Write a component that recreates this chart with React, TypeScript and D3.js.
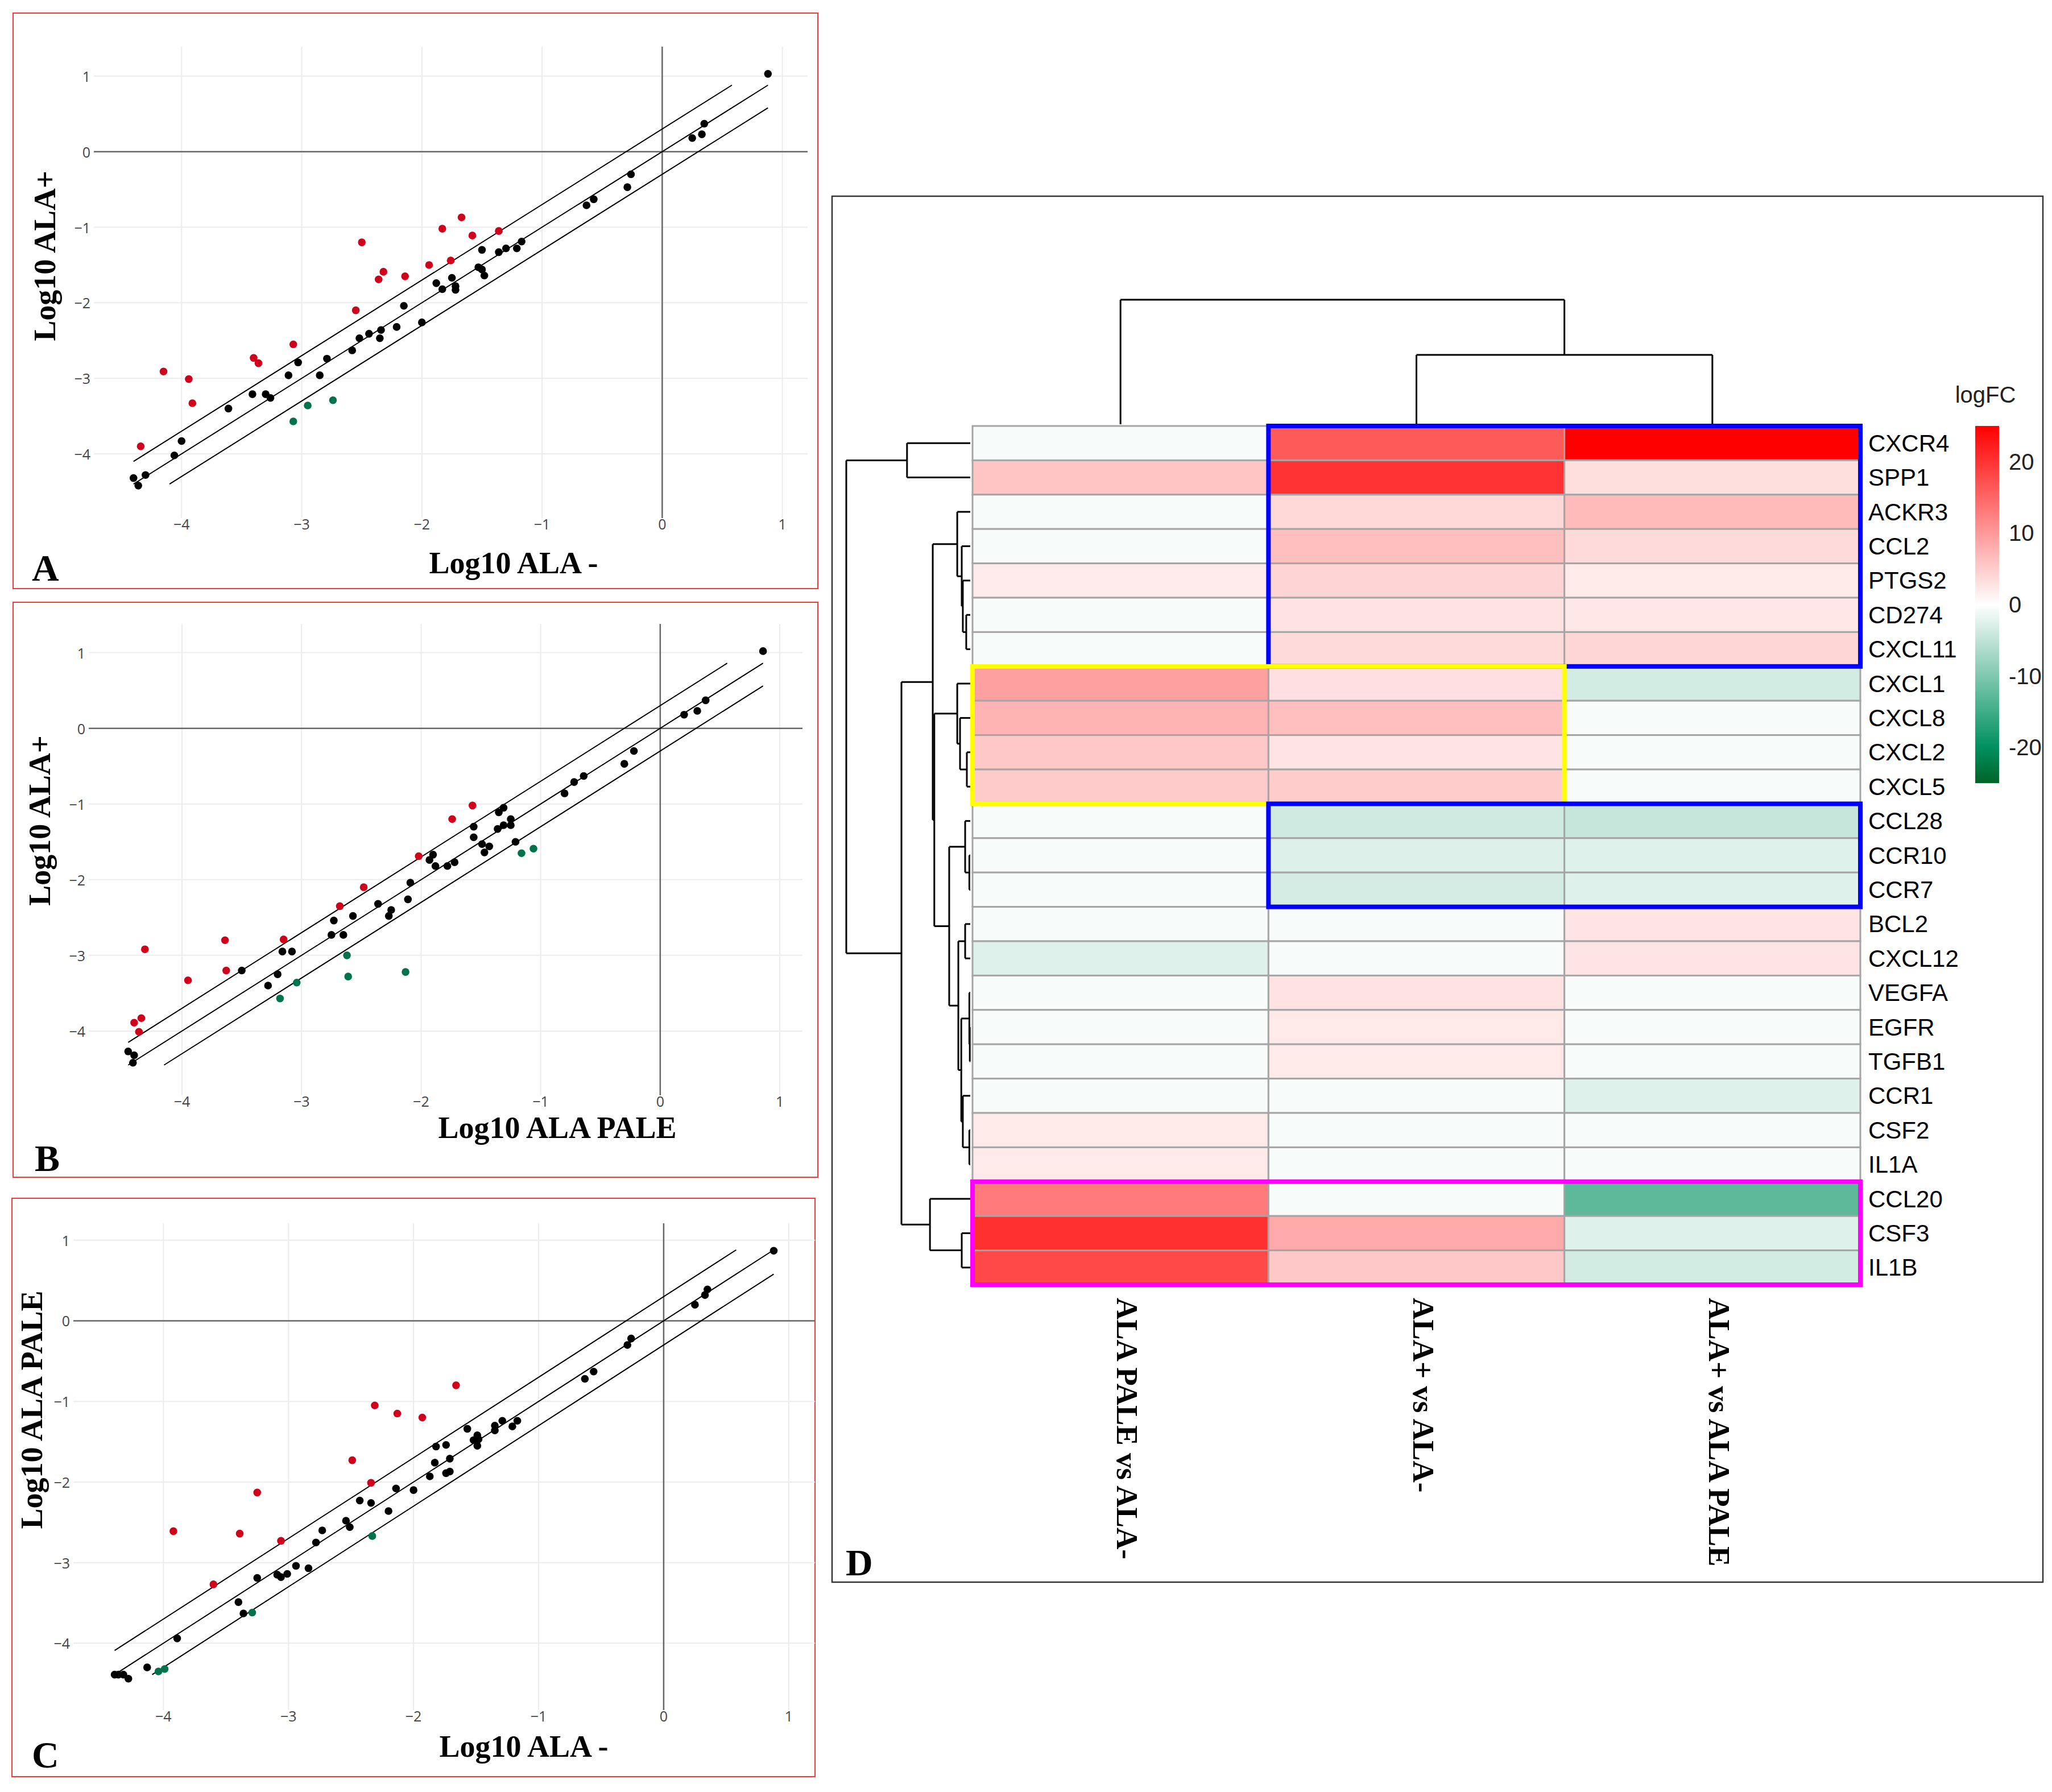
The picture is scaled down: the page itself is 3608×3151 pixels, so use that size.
import * as d3 from "d3"

type Pt = [number, number]

// ---- scatter panels: [log10 x, log10 y]
const aBlack: Pt[] = [
  [0.88, 1.03], [0.35, 0.37], [0.33, 0.23], [0.25, 0.18], [-0.26, -0.3], [-0.29, -0.47], [-0.57, -0.63],
  [-0.63, -0.71], [-1.17, -1.19], [-1.21, -1.28], [-1.3, -1.28], [-1.36, -1.33], [-1.5, -1.3], [-1.53, -1.53],
  [-1.5, -1.56], [-1.48, -1.64], [-1.75, -1.67], [-1.72, -1.78], [-1.72, -1.83], [-1.88, -1.74], [-1.83, -1.82],
  [-2.15, -2.04], [-2.0, -2.26], [-2.21, -2.32], [-2.34, -2.36], [-2.35, -2.47], [-2.44, -2.41], [-2.52, -2.47],
  [-2.58, -2.63], [-2.79, -2.74], [-2.85, -2.96], [-3.03, -2.79], [-3.11, -2.96], [-3.3, -3.21], [-3.26, -3.26],
  [-3.41, -3.21], [-3.61, -3.4], [-4.0, -3.83], [-4.06, -4.02], [-4.3, -4.28], [-4.4, -4.32], [-4.36, -4.42],
]
const aRed: Pt[] = [
  [-1.67, -0.87], [-1.83, -1.02], [-1.58, -1.11], [-1.36, -1.05], [-1.76, -1.44], [-1.94, -1.5], [-2.5, -1.2],
  [-2.32, -1.59], [-2.36, -1.69], [-2.14, -1.65], [-2.55, -2.1], [-3.07, -2.55], [-3.4, -2.73], [-3.36, -2.8],
  [-4.15, -2.91], [-3.94, -3.01], [-3.91, -3.33], [-4.34, -3.9],
]
const aGreen: Pt[] = [[-3.07, -3.57], [-2.95, -3.36], [-2.74, -3.29]]

const bBlack: Pt[] = [
  [0.86, 1.02], [0.38, 0.37], [0.31, 0.23], [0.2, 0.18], [-0.22, -0.3], [-0.3, -0.47], [-0.64, -0.63],
  [-0.72, -0.71], [-0.8, -0.86], [-1.31, -1.05], [-1.35, -1.11], [-1.25, -1.2], [-1.56, -1.3], [-1.31, -1.28],
  [-1.25, -1.28], [-1.36, -1.33], [-1.56, -1.44], [-1.21, -1.5], [-1.49, -1.53], [-1.43, -1.56], [-1.47, -1.64],
  [-1.9, -1.67], [-1.93, -1.74], [-1.72, -1.77], [-1.78, -1.82], [-1.88, -1.82], [-2.09, -2.04], [-2.11, -2.26],
  [-2.36, -2.32], [-2.25, -2.4], [-2.27, -2.48], [-2.57, -2.48], [-2.73, -2.54], [-2.75, -2.73], [-2.65, -2.73],
  [-3.16, -2.95], [-3.08, -2.95], [-3.2, -3.25], [-3.28, -3.4], [-3.5, -3.2], [-4.45, -4.27], [-4.4, -4.32],
  [-4.41, -4.42],
]
const bRed: Pt[] = [
  [-1.57, -1.02], [-1.74, -1.2], [-2.02, -1.69], [-2.48, -2.1], [-2.68, -2.35], [-3.15, -2.79], [-3.64, -2.8],
  [-3.63, -3.2], [-4.31, -2.92], [-3.95, -3.33], [-4.34, -3.83], [-4.4, -3.89], [-4.36, -4.01],
]
const bGreen: Pt[] = [
  [-1.16, -1.65], [-1.06, -1.59], [-2.13, -3.22], [-2.62, -3.0], [-2.61, -3.28], [-3.04, -3.36], [-3.18, -3.57],
]

const cBlack: Pt[] = [
  [0.88, 0.87], [0.35, 0.39], [0.33, 0.32], [0.25, 0.2], [-0.26, -0.22], [-0.29, -0.3], [-0.56, -0.63],
  [-0.63, -0.72], [-1.17, -1.24], [-1.29, -1.24], [-1.21, -1.31], [-1.35, -1.3], [-1.35, -1.36], [-1.57, -1.34],
  [-1.49, -1.42], [-1.48, -1.47], [-1.52, -1.48], [-1.49, -1.55], [-1.82, -1.56], [-1.74, -1.54], [-1.71, -1.71],
  [-1.83, -1.76], [-1.87, -1.93], [-1.74, -1.89], [-1.71, -1.87], [-2.14, -2.08], [-2.0, -2.1], [-2.43, -2.23],
  [-2.34, -2.26], [-2.2, -2.36], [-2.54, -2.48], [-2.51, -2.56], [-2.73, -2.6], [-2.78, -2.75], [-2.94, -3.04],
  [-2.84, -3.07], [-3.09, -3.15], [-3.06, -3.18], [-3.01, -3.14], [-3.25, -3.19], [-3.4, -3.49], [-3.36, -3.63],
  [-3.89, -3.94], [-4.13, -4.3], [-4.39, -4.39], [-4.36, -4.39], [-4.32, -4.39], [-4.28, -4.44],
]
const cRed: Pt[] = [
  [-1.66, -0.8], [-2.31, -1.05], [-2.13, -1.15], [-1.93, -1.2], [-2.49, -1.73], [-2.34, -2.01], [-3.25, -2.13],
  [-3.92, -2.61], [-3.39, -2.64], [-3.06, -2.73], [-3.6, -3.27],
]
const cGreen: Pt[] = [[-2.33, -2.67], [-3.29, -3.62], [-4.04, -4.35], [-3.99, -4.32]]

const axisTicks = [-4, -3, -2, -1, 0, 1]

// ---- heatmap
const genes = [
  "CXCR4", "SPP1", "ACKR3", "CCL2", "PTGS2", "CD274", "CXCL11", "CXCL1", "CXCL8", "CXCL2", "CXCL5", "CCL28",
  "CCR10", "CCR7", "BCL2", "CXCL12", "VEGFA", "EGFR", "TGFB1", "CCR1", "CSF2", "IL1A", "CCL20", "CSF3", "IL1B",
]
const contrasts = ["ALA PALE vs ALA-", "ALA+ vs ALA-", "ALA+ vs ALA PALE"]
const fcPaleVsNeg = [
  -0.6, 5.8, -0.6, -0.6, 2.0, -0.6, -0.6, 9.3, 7.4, 5.4, 5.2, -0.6, -0.6, -0.6, -0.6, -2.5, -0.6, -0.6, -0.6,
  -0.6, 2.1, 2.1, 13.0, 20.3, 17.9,
]
const fcPosVsNeg = [
  16.2, 20.0, 3.8, 6.3, 4.2, 2.8, 3.6, 3.1, 6.3, 2.6, 5.0, -3.8, -2.7, -3.4, -0.6, -0.6, 2.8, 2.2, 2.2, -0.6,
  -0.6, -0.6, -0.6, 8.3, 5.4,
]
const fcPosVsPale = [
  25.0, 3.2, 6.8, 3.6, 2.1, 2.4, 4.0, -3.5, -0.6, -0.6, -0.6, -4.5, -2.6, -2.5, 2.6, 2.6, -0.6, -0.6, -0.6,
  -2.5, -0.6, -0.6, -12.7, -2.5, -3.5,
]
const fcColumns = [fcPaleVsNeg, fcPosVsNeg, fcPosVsPale]
const legendTicks = [20, 10, 0, -10, -20]

type Tree = { h: number; kids: (Tree | string)[] }
const n = (h: number, a: Tree | string, b: Tree | string): Tree => ({ h, kids: [a, b] })

const rowTree = n(
  40,
  n(20.4, "CXCR4", "SPP1"),
  n(
    22.2,
    n(
      12.1,
      n(4.2, "ACKR3", n(2.75, "CCL2", n(2.4, "PTGS2", n(1.3, "CD274", "CXCL11")))),
      n(
        11.6,
        n(4.2, "CXCL1", n(3.3, "CXCL8", n(1.1, "CXCL2", "CXCL5"))),
        n(
          6.8,
          n(1.65, "CCL28", n(0.3, "CCR10", "CCR7")),
          n(
            3.85,
            n(1.65, "BCL2", "CXCL12"),
            n(2.9, n(0.3, "VEGFA", n(0.15, "EGFR", "TGFB1")), n(2.4, "CCR1", n(0.3, "CSF2", "IL1A")))
          )
        )
      )
    ),
    n(13, "CCL20", n(2.75, "CSF3", "IL1B"))
  )
)
const colTree = n(10, "ALA PALE vs ALA-", n(5.57, "ALA+ vs ALA-", "ALA+ vs ALA PALE"))

const boxes = [
  { cols: [1, 2], rows: ["CXCR4", "CXCL11"], color: "#0000ff" },
  { cols: [0, 1], rows: ["CXCL1", "CXCL5"], color: "#ffff00" },
  { cols: [1, 2], rows: ["CCL28", "CCR7"], color: "#0000ff" },
  { cols: [0, 2], rows: ["CCL20", "IL1B"], color: "#ff00ff" },
]

const serif = "'Liberation Serif', 'Times New Roman', serif"
const sans = "'Liberation Sans', Arial, sans-serif"

const fmt = (v: number) => (v < 0 ? "\u2212" + Math.abs(v) : String(v))

interface PanelSetup {
  letter: string
  frame: [number, number, number, number]
  plot: [number, number, number, number]
  xDom: [number, number]
  yDom: [number, number]
  xTitle: string
  yTitle: string
  xTitleAt: [number, number]
  yTitleAt: [number, number]
  letterAt: [number, number]
  black: Pt[]
  red: Pt[]
  green: Pt[]
}

const panels: PanelSetup[] = [
  {
    letter: "A", frame: [23, 23, 1438, 1035], plot: [165, 82, 1420, 911], xDom: [-4.73, 1.21], yDom: [-4.85, 1.39],
    xTitle: "Log10 ALA -", yTitle: "Log10 ALA+", xTitleAt: [903, 1008], yTitleAt: [97, 450], letterAt: [56, 1021],
    black: aBlack, red: aRed, green: aGreen,
  },
  {
    letter: "B", frame: [23, 1059, 1438, 2070], plot: [156, 1097, 1411, 1926], xDom: [-4.78, 1.19], yDom: [-4.85, 1.38],
    xTitle: "Log10 ALA PALE", yTitle: "Log10 ALA+", xTitleAt: [980, 2001], yTitleAt: [88, 1443], letterAt: [61, 2059],
    black: bBlack, red: bRed, green: bGreen,
  },
  {
    letter: "C", frame: [21, 2107, 1433, 3124], plot: [129, 2151, 1433, 3007], xDom: [-4.72, 1.21], yDom: [-4.83, 1.21],
    xTitle: "Log10 ALA -", yTitle: "Log10 ALA PALE", xTitleAt: [921, 3089], yTitleAt: [74, 2479], letterAt: [56, 3108],
    black: cBlack, red: cRed, green: cGreen,
  },
]

function Scatter({ p }: { p: PanelSetup }) {
  const x = d3.scaleLinear().domain(p.xDom).range([p.plot[0], p.plot[2]])
  const y = d3.scaleLinear().domain(p.yDom).range([p.plot[3], p.plot[1]])
  const all = [...p.black, ...p.red, ...p.green]
  const lo = d3.min(all, (d) => d[0]) ?? -4.4
  const hi = d3.max(all, (d) => d[0]) ?? 0.9
  // fold-change guide lines: y = x + off
  const guides = [
    { off: 0.3, a: lo, b: hi - 0.3 },
    { off: 0, a: lo, b: hi },
    { off: -0.3, a: lo + 0.3, b: hi },
  ]
  const groups = [
    { pts: p.black, fill: "#000000" },
    { pts: p.red, fill: "#d0021b" },
    { pts: p.green, fill: "#00734d" },
  ]
  return (
    <g>
      <rect
        x={p.frame[0]}
        y={p.frame[1]}
        width={p.frame[2] - p.frame[0]}
        height={p.frame[3] - p.frame[1]}
        fill="white"
        stroke="#f03a3a"
        strokeWidth={2}
      />
      {axisTicks
        .filter((t) => t !== 0)
        .map((t) => (
          <g key={"g" + t}>
            <line x1={x(t)} x2={x(t)} y1={p.plot[1]} y2={p.plot[3]} stroke="#ececec" strokeWidth={2} />
            <line x1={p.plot[0]} x2={p.plot[2]} y1={y(t)} y2={y(t)} stroke="#ececec" strokeWidth={2} />
          </g>
        ))}
      <line x1={x(0)} x2={x(0)} y1={p.plot[1]} y2={p.plot[3]} stroke="#666" strokeWidth={2.5} />
      <line x1={p.plot[0]} x2={p.plot[2]} y1={y(0)} y2={y(0)} stroke="#666" strokeWidth={2.5} />
      {axisTicks.map((t) => (
        <text
          key={"xt" + t}
          x={x(t)}
          y={p.plot[3] + 20}
          textAnchor="middle"
          fontFamily="'Open Sans', sans-serif"
          fontSize={25}
          fill="#444"
        >
          {fmt(t)}
        </text>
      ))}
      {axisTicks.map((t) => (
        <text
          key={"yt" + t}
          x={p.plot[0] - 6}
          y={y(t)}
          textAnchor="end"
          dominantBaseline="central"
          fontFamily="'Open Sans', sans-serif"
          fontSize={25}
          fill="#444"
        >
          {fmt(t)}
        </text>
      ))}
      {guides.map((g, i) => (
        <line
          key={"l" + i}
          x1={x(g.a)}
          y1={y(g.a + g.off)}
          x2={x(g.b)}
          y2={y(g.b + g.off)}
          stroke="#000"
          strokeWidth={2}
        />
      ))}
      {groups.map((g, gi) =>
        g.pts.map((d, i) => <circle key={gi + "-" + i} cx={x(d[0])} cy={y(d[1])} r={6.8} fill={g.fill} />)
      )}
      <text
        x={p.xTitleAt[0]}
        y={p.xTitleAt[1]}
        textAnchor="middle"
        fontFamily={serif}
        fontWeight="bold"
        fontSize={54}
      >
        {p.xTitle}
      </text>
      <text
        x={p.yTitleAt[0]}
        y={p.yTitleAt[1]}
        textAnchor="middle"
        fontFamily={serif}
        fontWeight="bold"
        fontSize={54}
        transform={`rotate(-90, ${p.yTitleAt[0]}, ${p.yTitleAt[1]})`}
      >
        {p.yTitle}
      </text>
      <text x={p.letterAt[0]} y={p.letterAt[1]} fontFamily={serif} fontWeight="bold" fontSize={66}>
        {p.letter}
      </text>
    </g>
  )
}

function Heatmap() {
  const xb = d3.scaleBand().domain(contrasts).range([1710, 3271])
  const yb = d3.scaleBand().domain(genes).range([749, 2259])
  const color = d3
    .scaleLinear<string>()
    .domain([-25, -20, 0, 25])
    .range(["#006428", "#009060", "#ffffff", "#ff0000"])
    .clamp(true)

  // row dendrogram
  const hx = d3.scaleLinear().domain([0, 40]).range([1706, 1488])
  const rowSegs: [number, number, number, number][] = []
  const walkRow = (t: Tree | string): { pos: number; h: number } => {
    if (typeof t === "string") return { pos: (yb(t) ?? 0) + yb.bandwidth() / 2, h: 0 }
    const kids = t.kids.map(walkRow)
    kids.forEach((k) => rowSegs.push([hx(k.h), k.pos, hx(t.h), k.pos]))
    rowSegs.push([hx(t.h), kids[0].pos, hx(t.h), kids[1].pos])
    return { pos: d3.mean(kids, (k) => k.pos) ?? 0, h: t.h }
  }
  walkRow(rowTree)

  // column dendrogram
  const hy = d3.scaleLinear().domain([0, 10]).range([746, 527])
  const colSegs: [number, number, number, number][] = []
  const walkCol = (t: Tree | string): { pos: number; h: number } => {
    if (typeof t === "string") return { pos: (xb(t) ?? 0) + xb.bandwidth() / 2, h: 0 }
    const kids = t.kids.map(walkCol)
    kids.forEach((k) => colSegs.push([k.pos, hy(k.h), k.pos, hy(t.h)]))
    colSegs.push([kids[0].pos, hy(t.h), kids[1].pos, hy(t.h)])
    return { pos: d3.mean(kids, (k) => k.pos) ?? 0, h: t.h }
  }
  walkCol(colTree)

  const lv = d3.scaleLinear().domain([-25, 25]).range([1377, 749])
  const stops = d3.range(-25, 25.01, 2.5)

  return (
    <g>
      <rect x={1463} y={345} width={2129} height={2437} fill="white" stroke="#333" strokeWidth={2.5} />
      {rowSegs.map((s, i) => (
        <line key={"r" + i} x1={s[0]} y1={s[1]} x2={s[2]} y2={s[3]} stroke="#000" strokeWidth={3} />
      ))}
      {colSegs.map((s, i) => (
        <line key={"c" + i} x1={s[0]} y1={s[1]} x2={s[2]} y2={s[3]} stroke="#000" strokeWidth={3} />
      ))}
      {fcColumns.map((vals, ci) =>
        vals.map((v, ri) => (
          <rect
            key={ci + "-" + ri}
            x={xb(contrasts[ci])}
            y={yb(genes[ri])}
            width={xb.bandwidth()}
            height={yb.bandwidth()}
            fill={color(v)}
            stroke="#a5a5a5"
            strokeWidth={3}
          />
        ))
      )}
      {boxes.map((b, i) => {
        const x0 = xb(contrasts[b.cols[0]]) ?? 0
        const x1 = (xb(contrasts[b.cols[1]]) ?? 0) + xb.bandwidth()
        const y0 = yb(b.rows[0]) ?? 0
        const y1 = (yb(b.rows[1]) ?? 0) + yb.bandwidth()
        return (
          <rect
            key={"b" + i}
            x={x0}
            y={y0}
            width={x1 - x0}
            height={y1 - y0}
            fill="none"
            stroke={b.color}
            strokeWidth={8}
          />
        )
      })}
      {genes.map((g) => (
        <text
          key={g}
          x={3285}
          y={(yb(g) ?? 0) + yb.bandwidth() / 2}
          dominantBaseline="central"
          fontFamily={sans}
          fontSize={42}
          fill="#000"
        >
          {g}
        </text>
      ))}
      {contrasts.map((c) => {
        const cx = (xb(c) ?? 0) + xb.bandwidth() / 2 + 12
        const cy = 2282
        return (
          <text
            key={c}
            x={cx}
            y={cy}
            dominantBaseline="central"
            fontFamily={serif}
            fontWeight="bold"
            fontSize={53}
            transform={`rotate(90, ${cx}, ${cy})`}
          >
            {c}
          </text>
        )
      })}
      <defs>
        <linearGradient id="fcgrad" x1="0" y1="1" x2="0" y2="0">
          {stops.map((s) => (
            <stop key={s} offset={(s + 25) / 50} stopColor={color(s)} />
          ))}
        </linearGradient>
      </defs>
      <text x={3491} y={708} textAnchor="middle" fontFamily={sans} fontSize={40} fill="#222">
        logFC
      </text>
      <rect x={3473} y={lv(25)} width={42} height={lv(-25) - lv(25)} fill="url(#fcgrad)" />
      {legendTicks.map((t) => (
        <text key={t} x={3532} y={lv(t)} dominantBaseline="central" fontFamily={sans} fontSize={40} fill="#222">
          {t}
        </text>
      ))}
      <text x={1487} y={2770} fontFamily={serif} fontWeight="bold" fontSize={66}>
        D
      </text>
    </g>
  )
}

export default function App() {
  return (
    <svg
      width={3608}
      height={3151}
      style={{ position: "absolute", left: 0, top: 0, background: "white" }}
    >
      <rect x={0} y={0} width={3608} height={3151} fill="white" />
      {panels.map((p) => (
        <Scatter key={p.letter} p={p} />
      ))}
      <Heatmap />
    </svg>
  )
}
